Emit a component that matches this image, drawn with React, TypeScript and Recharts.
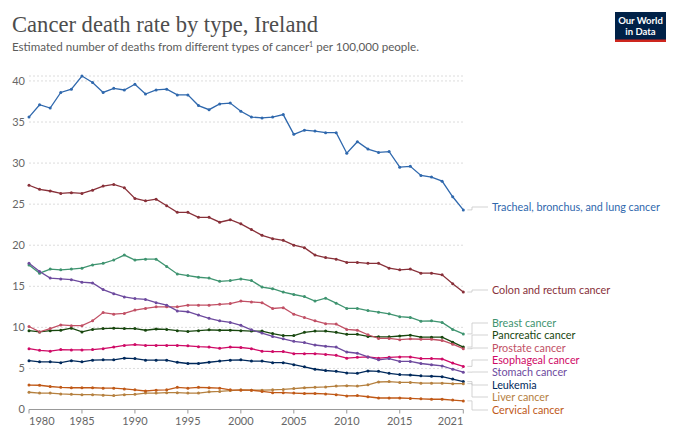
import React from 'react'
import { LineChart, Line, XAxis, YAxis, CartesianGrid } from 'recharts'

// years shown on the x axis
const years = [
  1980, 1981, 1982, 1983, 1984, 1985, 1986, 1987, 1988, 1989,
  1990, 1991, 1992, 1993, 1994, 1995, 1996, 1997, 1998, 1999,
  2000, 2001, 2002, 2003, 2004, 2005, 2006, 2007, 2008, 2009,
  2010, 2011, 2012, 2013, 2014, 2015, 2016, 2017, 2018, 2019,
  2020, 2021,
]

const xTicks = [1980, 1985, 1990, 1995, 2000, 2005, 2010, 2015, 2021]
const yTicks = [0, 5, 10, 15, 20, 25, 30, 35, 40]

// deaths per 100,000 people
const lung = [
  35.6, 37.1, 36.7, 38.6, 39.0, 40.6, 39.8, 38.6, 39.1, 38.9,
  39.6, 38.4, 38.9, 39.0, 38.3, 38.3, 37.0, 36.5, 37.2, 37.3,
  36.3, 35.6, 35.5, 35.6, 35.9, 33.5, 34.0, 33.9, 33.7, 33.7,
  31.2, 32.6, 31.7, 31.3, 31.4, 29.5, 29.6, 28.5, 28.3, 27.8,
  25.9, 24.3,
]
const colon = [
  27.3, 26.8, 26.6, 26.3, 26.4, 26.3, 26.7, 27.2, 27.4, 27.0,
  25.7, 25.4, 25.6, 24.8, 24.0, 24.0, 23.4, 23.4, 22.8, 23.1,
  22.6, 21.9, 21.2, 20.8, 20.6, 20.0, 19.7, 18.8, 18.5, 18.3,
  17.9, 17.9, 17.8, 17.8, 17.2, 17.0, 17.1, 16.6, 16.6, 16.4,
  15.3, 14.3,
]
const breast = [
  17.6, 16.6, 17.1, 17.0, 17.1, 17.2, 17.6, 17.8, 18.2, 18.8,
  18.2, 18.3, 18.3, 17.4, 16.5, 16.3, 16.1, 16.0, 15.6, 15.7,
  15.9, 15.7, 14.9, 14.7, 14.3, 14.0, 13.75, 13.2, 13.55, 12.95,
  12.3, 12.3, 12.05, 11.85, 11.65, 11.3, 11.2, 10.75, 10.8, 10.6,
  9.75, 9.2,
]
const pancreatic = [
  9.6, 9.45, 9.6, 9.65, 9.9, 9.45, 9.75, 9.85, 9.9, 9.85,
  9.85, 9.65, 9.8, 9.75, 9.6, 9.5, 9.6, 9.7, 9.65, 9.65,
  9.6, 9.55, 9.55, 9.25, 9.0, 9.0, 9.4, 9.55, 9.55, 9.4,
  9.15, 9.15, 8.9, 8.85, 8.85, 8.95, 9.05, 8.8, 8.8, 8.8,
  8.2, 7.6,
]
const prostate = [
  10.1, 9.45, 9.85, 10.3, 10.2, 10.2, 10.8, 11.8, 11.6, 11.7,
  12.1, 12.3, 12.5, 12.5, 12.5, 12.7, 12.7, 12.7, 12.8, 12.9,
  13.2, 13.1, 13.0, 12.3, 12.4, 11.6, 11.2, 10.8, 10.45, 10.4,
  9.75, 9.65, 9.1, 8.65, 8.65, 8.5, 8.6, 8.55, 8.55, 8.4,
  7.95, 7.4,
]
const esophageal = [
  7.4, 7.2, 7.1, 7.3, 7.25, 7.25, 7.3, 7.4, 7.6, 7.8,
  7.9, 7.8, 7.8, 7.8, 7.8, 7.75, 7.65, 7.6, 7.45, 7.6,
  7.55, 7.4, 7.1, 7.05, 7.05, 6.8, 6.8, 6.8, 6.7, 6.6,
  6.25, 6.35, 6.4, 6.25, 6.35, 6.4, 6.4, 6.2, 6.2, 6.15,
  5.65, 5.25,
]
const stomach = [
  17.8, 16.8, 16.0, 15.9, 15.8, 15.5, 15.4, 14.6, 14.1, 13.7,
  13.5, 13.4, 13.0, 12.7, 12.0, 11.9, 11.5, 11.1, 10.8, 10.6,
  10.25, 9.7, 9.3, 8.9, 8.6, 8.3, 8.15, 7.85, 7.7, 7.6,
  7.0, 6.85, 6.4, 6.05, 6.2, 5.85, 5.85, 5.6, 5.45, 5.3,
  4.9, 4.55,
]
const leukemia = [
  5.95, 5.8, 5.8, 5.7, 5.95, 5.8, 6.0, 6.05, 6.05, 6.25,
  6.2, 6.0, 6.0, 6.0, 5.75, 5.6, 5.6, 5.75, 5.9, 6.0,
  6.05, 5.9, 5.9, 5.7, 5.7, 5.45, 5.2, 4.9, 4.75, 4.65,
  4.45, 4.4, 4.7, 4.65, 4.4, 4.25, 4.2, 4.1, 4.05, 4.0,
  3.7, 3.4,
]
const liver = [
  2.1, 2.0, 2.0, 1.9, 1.85, 1.8, 1.8, 1.75, 1.7, 1.8,
  1.85, 2.0, 2.0, 2.05, 2.05, 2.0, 2.0, 2.15, 2.2, 2.3,
  2.4, 2.35, 2.35, 2.4, 2.45, 2.55, 2.65, 2.7, 2.75, 2.85,
  2.9, 2.85, 3.0, 3.35, 3.4, 3.3, 3.3, 3.2, 3.2, 3.2,
  3.15, 3.15,
]
const cervical = [
  2.97, 2.95, 2.8, 2.7, 2.65, 2.65, 2.65, 2.6, 2.6, 2.5,
  2.4, 2.25, 2.35, 2.4, 2.7, 2.6, 2.7, 2.65, 2.6, 2.4,
  2.35, 2.35, 2.2, 2.05, 2.05, 2.0, 1.95, 1.95, 1.9, 1.8,
  1.65, 1.7, 1.55, 1.4, 1.4, 1.4, 1.35, 1.3, 1.25, 1.25,
  1.15, 1.05,
]

const series = [
  { key: 'lung', name: 'Tracheal, bronchus, and lung cancer', color: '#2f68ad', values: lung },
  { key: 'colon', name: 'Colon and rectum cancer', color: '#883039', values: colon },
  { key: 'breast', name: 'Breast cancer', color: '#3f9470', values: breast },
  { key: 'pancreatic', name: 'Pancreatic cancer', color: '#18470f', values: pancreatic },
  { key: 'prostate', name: 'Prostate cancer', color: '#c15065', values: prostate },
  { key: 'esophageal', name: 'Esophageal cancer', color: '#cf0a66', values: esophageal },
  { key: 'stomach', name: 'Stomach cancer', color: '#6d4a9e', values: stomach },
  { key: 'leukemia', name: 'Leukemia', color: '#00295b', values: leukemia },
  { key: 'liver', name: 'Liver cancer', color: '#b5803f', values: liver },
  { key: 'cervical', name: 'Cervical cancer', color: '#c05917', values: cervical },
]

// where the right-hand labels sit (pixels), spread out so they don't collide
const labelY: Record<string, number> = {
  lung: 207, colon: 290, breast: 323, pancreatic: 335, prostate: 348,
  esophageal: 360, stomach: 372, leukemia: 385, liver: 397, cervical: 410,
}

const data = years.map((year, i) => {
  const row: Record<string, number> = { year }
  series.forEach((s) => { row[s.key] = s.values[i] })
  return row
})

const FONT = 'Lato, "Noto Sans", sans-serif'

const XTick = (props: any) => {
  const { x, y, payload } = props
  const v = payload.value
  const anchor = v === years[0] ? 'start' : v === years[years.length - 1] ? 'end' : 'middle'
  return (
    <text x={x} y={y} dy="0.71em" textAnchor={anchor} fill="#666" fontSize={11} fontFamily={FONT}>
      {v}
    </text>
  )
}

const endLabel = (s: typeof series[number]) => (props: any) => {
  const { x, y, index } = props
  if (index !== years.length - 1) return null
  const ly = labelY[s.key]
  return (
    <g>
      <path d={`M${x + 4},${y}H472V${ly}H488`} stroke="#c8c8c8" strokeWidth={0.8} fill="none" />
      <text x={492} y={ly} dy="0.35em" fill={s.color} fontSize={10.8} fontFamily={FONT}>
        {s.name}
      </text>
    </g>
  )
}

export default function App() {
  return (
    <div style={{ position: 'absolute', left: 0, top: 0, width: 680, height: 439, background: '#fff', overflow: 'hidden' }}>
      <LineChart
        width={680}
        height={439}
        data={data}
        margin={{ top: 76, right: 216.7, bottom: 9.5, left: 0 }}
      >
        <CartesianGrid vertical={false} stroke="#dcdcdc" strokeDasharray="2 2" />
        <XAxis
          dataKey="year"
          type="number"
          domain={[1980, 2021]}
          ticks={xTicks}
          height={20}
          stroke="#999"
          tickSize={4}
          tickMargin={4}
          tick={<XTick />}
        />
        <YAxis
          domain={[0, 40]}
          ticks={yTicks}
          width={29}
          axisLine={false}
          tickLine={false}
          tickSize={2}
          tickMargin={2}
          tick={{ fill: '#666', fontSize: 11, fontFamily: FONT }}
        />
        {series.map((s) => (
          <Line
            key={s.key}
            dataKey={s.key}
            type="linear"
            stroke={s.color}
            strokeWidth={1.3}
            dot={{ r: 1.5, fill: s.color, stroke: s.color, strokeWidth: 0 }}
            activeDot={false}
            isAnimationActive={false}
            label={endLabel(s)}
          />
        ))}
      </LineChart>

      <svg width={680} height={60} style={{ position: 'absolute', left: 0, top: 0 }}>
        <text x={12} y={32} fontFamily='"Liberation Serif", "DejaVu Serif", serif' fontSize={22.5} fill="#4d4d4d"
          textLength={306} lengthAdjust="spacingAndGlyphs">
          Cancer death rate by type, Ireland
        </text>
        <text x={12} y={51} fontFamily={FONT} fontSize={11.6} fill="#5b5b5b">
          Estimated number of deaths from different types of cancer
          <tspan dy={-4} fontSize={7}>1</tspan>
          <tspan dy={4}> per 100,000 people.</tspan>
        </text>
        <rect x={615} y={12} width={51} height={30} fill="#002147" />
        <rect x={615} y={39.5} width={51} height={2.5} fill="#ce261e" />
        <text x={640.5} y={24} textAnchor="middle" fill="#fff" fontFamily={FONT} fontWeight={700} fontSize={9.5}>
          Our World
        </text>
        <text x={640.5} y={34.5} textAnchor="middle" fill="#fff" fontFamily={FONT} fontWeight={700} fontSize={9.5}>
          in Data
        </text>
      </svg>
    </div>
  )
}
